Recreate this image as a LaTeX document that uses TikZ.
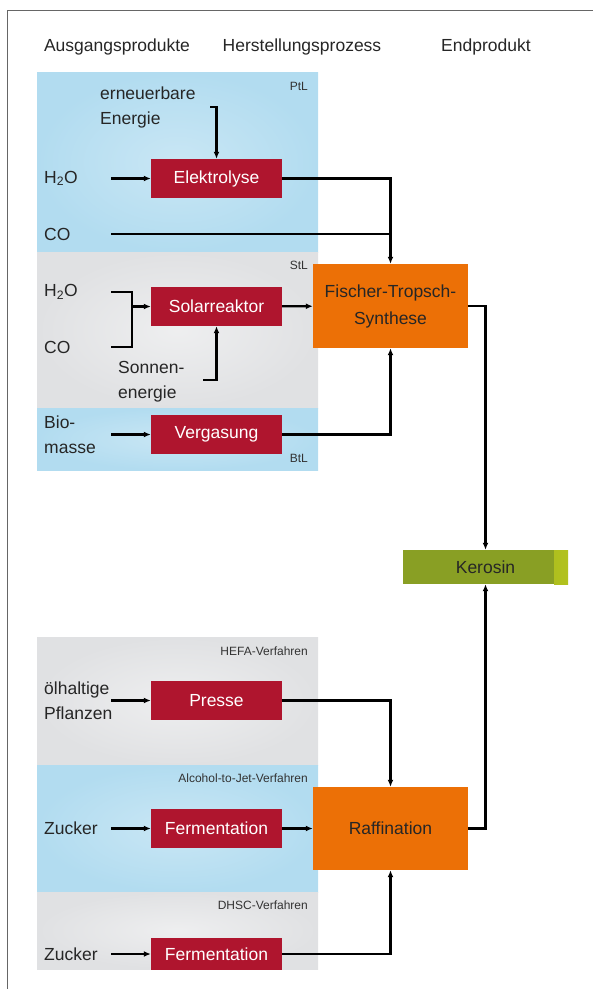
\documentclass[tikz,border=0pt]{standalone}
\usepackage{fontspec}
\setmainfont{Liberation Sans}
\usepackage{tikz}
\usetikzlibrary{arrows.meta,positioning}
\usepackage{xcolor}
\definecolor{Himmel}{RGB}{178,220,240}
\definecolor{Nebel}{RGB}{224,225,227}
\definecolor{Weinrot}{RGB}{175,21,46}
\definecolor{Kuerbis}{RGB}{236,112,6}
\definecolor{Oliv}{RGB}{137,159,36}
\definecolor{OlivHell}{RGB}{178,194,30}

\begin{document}
\begin{tikzpicture}[x=1pt,y=-1pt,>={Latex[length=7pt,width=6pt]},
  every node/.style={font=\fontsize{17.5}{25}\selectfont},
  blau/.style={inner color=Himmel!70!white,outer color=Himmel},
  grau/.style={inner color=Nebel!55!white,outer color=Nebel},
  procbox/.style={fill=Weinrot,text=white,minimum width=131pt,minimum height=39pt,inner sep=0pt},
  bigbox/.style={fill=Kuerbis,text=black!85,minimum width=155pt,minimum height=84pt,inner sep=0pt,align=center,font=\fontsize{17.5}{27}\selectfont},
  produkt/.style={fill=Oliv,text=black!85,minimum width=165pt,minimum height=34pt,inner sep=0pt,
    path picture={\shade[left color=Oliv,right color=OlivHell] ([xshift=-14pt]path picture bounding box.north east) rectangle (path picture bounding box.south east);}},
  inlabel/.style={anchor=west,text width=64.5pt,inner sep=2.5pt,align=left,text=black!85},
  freilabel/.style={anchor=west,align=left,inner sep=0pt,text=black!85},
  feldtag/.style={anchor=east,inner sep=0pt,text=black!80,font=\fontsize{12}{14}\selectfont},
  kopf/.style={text=black!85},
  pfeil/.style={->,line width=2.2pt},
  linie/.style={line width=2.2pt}]
\useasboundingbox (0,0) rectangle (593,989);
\draw[black!60,line width=1pt] (7,989) -- (7,10) -- (593,10);
%
% Felder
\shade[blau] (37,72) rectangle (318,252);
\shade[grau] (37,252) rectangle (318,408);
\shade[blau] (37,408) rectangle (318,470);
\shade[grau] (37,637) rectangle (318,765);
\shade[blau] (37,765) rectangle (318,892);
\shade[grau] (37,892) rectangle (318,969);
%
\node[kopf] (ausgang) at (117,47) {Ausgangsprodukte};
\node[kopf] (prozess) at (302,47) {Herstellungsprozess};
\node[kopf] (endprod) at (486,47) {Endprodukt};
\node[feldtag] (ptl) at (308,86) {PtL};
\node[feldtag] (stl) at (308,265) {StL};
\node[feldtag] (btl) at (308,458) {BtL};
\node[feldtag] (hefa) at (308,651) {HEFA-Verfahren};
\node[feldtag] (atj) at (308,778) {Alcohol-to-Jet-Verfahren};
\node[feldtag] (dhsc) at (308,905) {DHSC-Verfahren};
%
% Prozesse
\node[procbox] (elektrolyse) at (216.5,178.5) {Elektrolyse};
\node[procbox] (solar) at (216.5,306.5) {Solarreaktor};
\node[procbox] (vergasung) at (216.5,434.5) {Vergasung};
\node[procbox] (presse) at (216.5,700.5) {Presse};
\node[procbox] (ferm) at (216.5,828.5) {Fermentation};
\node[procbox,minimum height=32pt] (fermb) at (216.5,954) {Fermentation};
\node[bigbox] (ft) at (390.5,306) {Fischer-Tropsch-\\Synthese};
\node[bigbox,minimum height=83pt] (raff) at (390.5,828.5) {Raffination};
\node[produkt] (kerosin) at (485.5,567) {Kerosin};
%
% Ausgangsprodukte
\node[inlabel] (wasserA) at (41.5,178.5) {H\textsubscript{2}O};
\node[inlabel] (coA) at (41.5,234) {CO};
\node[inlabel] (wasserB) at (41.5,292) {H\textsubscript{2}O};
\node[inlabel] (coB) at (41.5,347) {CO};
\node[inlabel] (bio) at (41.5,434.5) {Bio-\\masse};
\node[inlabel] (oel) at (41.5,700.5) {ölhaltige\\Pflanzen};
\node[inlabel] (zuckerA) at (41.5,828.5) {Zucker};
\node[inlabel] (zuckerB) at (41.5,954) {Zucker};
\node[freilabel] (strom) at (100,107) {erneuerbare\\Energie};
\node[freilabel] (sonne) at (118,382) {Sonnen-\\energie};
\coordinate (stromEck) at (210,107);
\coordinate (sonneEck) at (203,380);
\coordinate (klammer) at (132,306.5);
%
% Verbindungen
\draw[pfeil] (stromEck) -| (elektrolyse);
\draw[pfeil] (wasserA) -- (elektrolyse);
\draw[pfeil] (elektrolyse) -| (ft);
\draw[linie] (coA) -- (coA -| ft);
\draw[linie] (wasserB) -| (klammer) |- (coB);
\draw[pfeil] (klammer) -- (solar);
\draw[pfeil] (sonneEck) -| (solar);
\draw[pfeil] (solar) -- (ft);
\draw[pfeil] (bio) -- (vergasung);
\draw[pfeil] (vergasung) -| (ft);
\draw[pfeil] (ft) -| (kerosin);
\draw[pfeil] (oel) -- (presse);
\draw[pfeil] (zuckerA) -- (ferm);
\draw[pfeil] (zuckerB) -- (fermb);
\draw[pfeil] (presse) -| (raff);
\draw[pfeil] (ferm) -- (raff);
\draw[pfeil] (fermb) -| (raff);
\draw[pfeil] (raff) -| (kerosin);
%
\end{tikzpicture}
\end{document}
